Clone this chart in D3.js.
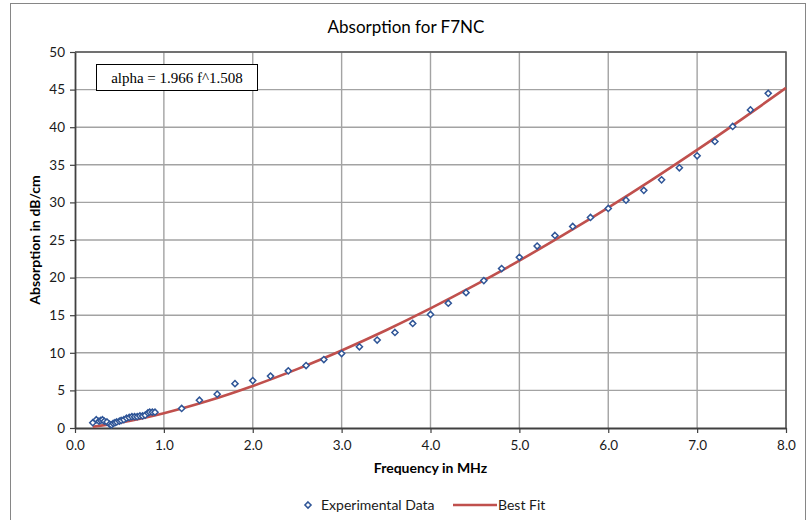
<!DOCTYPE html>
<html>
<head>
<meta charset="utf-8">
<script src="https://cdn.jsdelivr.net/npm/d3@7"></script>
<style>
  body { margin: 0; background: #fff; }
  svg { display: block; font-family: Lato, "Noto Sans", sans-serif; }
</style>
</head>
<body>
<svg id="chart" width="811" height="520"></svg>
<script>
// experimental data (frequency in MHz, absorption in dB/cm)
const expFreq = [0.20, 0.24, 0.27, 0.29, 0.31, 0.33, 0.36, 0.39, 0.41, 0.43, 0.45, 0.47, 0.50,
  0.52, 0.55, 0.58, 0.61, 0.64, 0.67, 0.70, 0.73, 0.76, 0.79, 0.82, 0.84, 0.87, 0.90,
  1.2, 1.4, 1.6, 1.8, 2.0, 2.2, 2.4, 2.6, 2.8, 3.0, 3.2, 3.4, 3.6, 3.8, 4.0, 4.2, 4.4,
  4.6, 4.8, 5.0, 5.2, 5.4, 5.6, 5.8, 6.0, 6.2, 6.4, 6.6, 6.8, 7.0, 7.2, 7.4, 7.6, 7.8];
const expAbs = [0.7, 1.1, 0.9, 1.0, 1.1, 0.9, 0.8, 0.5, 0.4, 0.6, 0.7, 0.8, 0.9,
  1.0, 1.1, 1.3, 1.4, 1.5, 1.5, 1.5, 1.6, 1.6, 1.7, 2.0, 2.1, 2.1, 2.1,
  2.6, 3.7, 4.5, 5.9, 6.3, 6.9, 7.6, 8.3, 9.1, 9.9, 10.8, 11.7, 12.7, 13.9, 15.1, 16.6, 18.0,
  19.6, 21.2, 22.7, 24.2, 25.6, 26.8, 28.0, 29.2, 30.3, 31.6, 33.0, 34.6, 36.2, 38.1, 40.1, 42.3, 44.5];

// best fit curve
const fitFreq = [0.2, 0.5, 1.0, 1.5, 2.0, 2.5, 3.0, 3.5, 4.0, 4.5, 5.0, 5.5, 6.0, 6.5, 7.0, 7.5, 8.0];
const fitAbs = [0.17, 0.69, 1.97, 3.62, 5.59, 7.83, 10.31, 13.0, 15.9, 18.99, 22.26, 25.71, 29.31, 33.07, 36.98, 41.04, 45.23];

const xTicks = [0, 1, 2, 3, 4, 5, 6, 7, 8];
const yTicks = [0, 5, 10, 15, 20, 25, 30, 35, 40, 45, 50];

const svg = d3.select("#chart");
const plotL = 75, plotR = 786, plotT = 52, plotB = 428;

const x = d3.scaleLinear().domain([0, 8]).range([plotL, plotR]);
const y = d3.scaleLinear().domain([0, 50]).range([plotB, plotT]);

// outer chart border
svg.append("rect")
  .attr("x", 10.5).attr("y", 3.5)
  .attr("width", 795).attr("height", 530)
  .attr("fill", "none").attr("stroke", "#868686").attr("stroke-width", 1);

// title
svg.append("text")
  .attr("x", 406).attr("y", 33)
  .attr("text-anchor", "middle")
  .attr("font-size", 17).attr("fill", "#000")
  .text("Absorption for F7NC");

// gridlines
svg.append("g").selectAll("line").data(yTicks.slice(1)).join("line")
  .attr("x1", plotL).attr("x2", plotR)
  .attr("y1", d => y(d)).attr("y2", d => y(d))
  .attr("stroke", "#a3a3a3").attr("stroke-width", 1.4);
svg.append("g").selectAll("line").data(xTicks.slice(1)).join("line")
  .attr("x1", d => x(d)).attr("x2", d => x(d))
  .attr("y1", plotT).attr("y2", plotB)
  .attr("stroke", "#a3a3a3").attr("stroke-width", 1.4);

// plot area border top / right
svg.append("path")
  .attr("d", `M${plotL},${plotT}H${plotR}V${plotB}`)
  .attr("fill", "none").attr("stroke", "#595959").attr("stroke-width", 1.5);

// axes
const xAxis = svg.append("g")
  .attr("transform", `translate(0,${plotB})`)
  .call(d3.axisBottom(x).tickValues(xTicks).tickFormat(d3.format(".1f")).tickSizeInner(5).tickSizeOuter(0));
const yAxis = svg.append("g")
  .attr("transform", `translate(${plotL},0)`)
  .call(d3.axisLeft(y).tickValues(yTicks).tickSizeInner(5).tickSizeOuter(0));

[xAxis, yAxis].forEach(g => {
  g.select(".domain").attr("stroke", "#404040").attr("stroke-width", 1.8);
  g.selectAll(".tick line").attr("stroke", "#404040").attr("stroke-width", 1.2);
  g.selectAll(".tick text").attr("font-size", 13.5).attr("fill", "#1a1a1a")
    .attr("font-family", "Lato, 'Noto Sans', sans-serif");
});
xAxis.selectAll(".tick text").attr("dy", "1.05em");
yAxis.selectAll(".tick text").attr("x", -10);

// axis titles
svg.append("text")
  .attr("x", (plotL + plotR) / 2).attr("y", 473)
  .attr("text-anchor", "middle")
  .attr("font-size", 14).attr("font-weight", "bold")
  .text("Frequency in MHz");
svg.append("text")
  .attr("transform", `translate(40,${(plotT + plotB) / 2}) rotate(-90)`)
  .attr("text-anchor", "middle")
  .attr("font-size", 14).attr("font-weight", "bold")
  .text("Absorption in dB/cm");

// best fit line
const fitData = fitFreq.map((f, i) => [f, fitAbs[i]]);
svg.append("path")
  .datum(fitData)
  .attr("fill", "none").attr("stroke", "#c0504d").attr("stroke-width", 2.6)
  .attr("d", d3.line().x(d => x(d[0])).y(d => y(d[1])).curve(d3.curveCatmullRom));

// experimental points (hollow diamonds)
const expData = expFreq.map((f, i) => [f, expAbs[i]]);
const diamond = d3.symbol().type(d3.symbolDiamond2).size(24);
svg.append("g").selectAll("path").data(expData).join("path")
  .attr("transform", d => `translate(${x(d[0])},${y(d[1])})`)
  .attr("d", diamond)
  .attr("fill", "#fff").attr("stroke", "#2f5597").attr("stroke-width", 1.5);

// equation box
svg.append("rect")
  .attr("x", 96.5).attr("y", 64.5).attr("width", 161).attr("height", 26)
  .attr("fill", "#fff").attr("stroke", "#000").attr("stroke-width", 1);
svg.append("text")
  .attr("x", 177).attr("y", 82.5)
  .attr("text-anchor", "middle")
  .attr("font-family", "'Liberation Serif', 'DejaVu Serif', serif")
  .attr("font-size", 15)
  .text("alpha = 1.966 f^1.508");

// legend
const legend = svg.append("g").attr("font-size", 14).attr("fill", "#1a1a1a");
legend.append("path")
  .attr("transform", "translate(308,505)")
  .attr("d", diamond)
  .attr("fill", "#fff").attr("stroke", "#2f5597").attr("stroke-width", 1.5);
legend.append("text").attr("x", 321).attr("y", 510).text("Experimental Data");
legend.append("line")
  .attr("x1", 453).attr("x2", 497).attr("y1", 505).attr("y2", 505)
  .attr("stroke", "#c0504d").attr("stroke-width", 2.6);
legend.append("text").attr("x", 498).attr("y", 510).text("Best Fit");
</script>
</body>
</html>
